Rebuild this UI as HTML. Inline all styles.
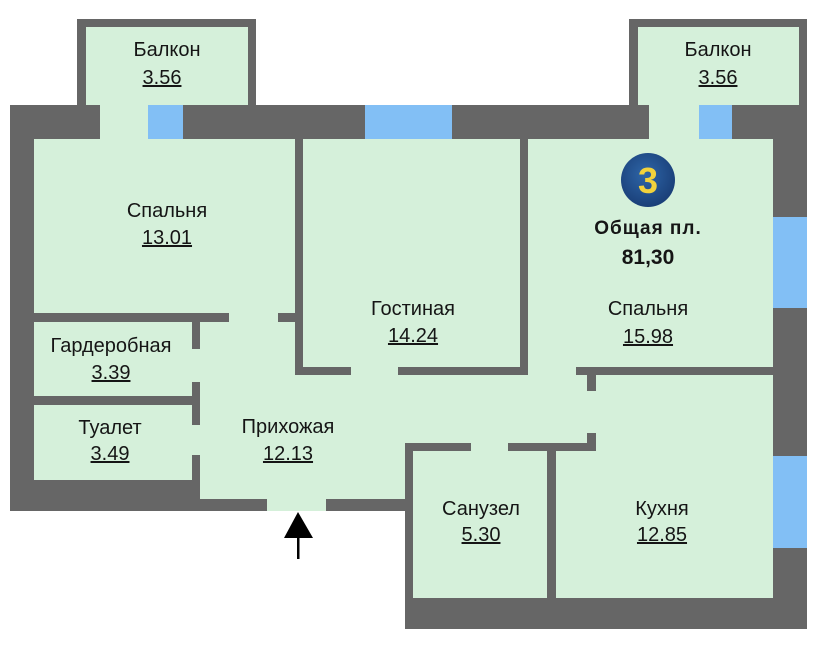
<!DOCTYPE html>
<html><head><meta charset="utf-8"><style>
html,body{margin:0;padding:0;background:#fff;}
svg{display:block}
text{font-family:"Liberation Sans Narrow","Liberation Sans",sans-serif;fill:#151515;text-anchor:middle;font-size:20px;}
.n{text-decoration:underline;}
</style></head><body>
<svg width="826" height="652" viewBox="0 0 826 652" xmlns="http://www.w3.org/2000/svg">
<defs><radialGradient id="g" cx="45%" cy="40%" r="60%"><stop offset="0" stop-color="#2e66a8"/><stop offset="1" stop-color="#1a3f78"/></radialGradient></defs>
<rect x="77" y="19" width="179" height="90" fill="#666"/>
<rect x="86" y="27" width="162" height="82" fill="#d5f0da"/>
<rect x="629" y="19" width="178" height="90" fill="#666"/>
<rect x="638" y="27" width="161" height="82" fill="#d5f0da"/>
<rect x="34" y="105" width="739" height="493" fill="#d5f0da"/>
<rect x="0" y="511" width="405" height="141" fill="#fff"/>
<rect x="10" y="105" width="90" height="34" fill="#666"/>
<rect x="148" y="105" width="35" height="34" fill="#82bff5"/>
<rect x="183" y="105" width="182" height="34" fill="#666"/>
<rect x="365" y="105" width="87" height="34" fill="#82bff5"/>
<rect x="452" y="105" width="197" height="34" fill="#666"/>
<rect x="699" y="105" width="33" height="34" fill="#82bff5"/>
<rect x="732" y="105" width="75" height="34" fill="#666"/>
<rect x="10" y="105" width="24" height="406" fill="#666"/>
<rect x="773" y="105" width="34" height="524" fill="#666"/>
<rect x="773" y="217" width="34" height="91" fill="#82bff5"/>
<rect x="773" y="456" width="34" height="92" fill="#82bff5"/>
<rect x="10" y="480" width="190" height="31" fill="#666"/>
<rect x="200" y="499" width="67" height="12" fill="#666"/>
<rect x="326" y="499" width="87" height="12" fill="#666"/>
<rect x="405" y="443" width="8" height="186" fill="#666"/>
<rect x="405" y="598" width="402" height="31" fill="#666"/>
<rect x="34" y="313" width="195" height="9" fill="#666"/>
<rect x="278" y="313" width="25" height="9" fill="#666"/>
<rect x="295" y="139" width="8" height="236" fill="#666"/>
<rect x="295" y="367" width="56" height="8" fill="#666"/>
<rect x="398" y="367" width="130" height="8" fill="#666"/>
<rect x="520" y="139" width="8" height="236" fill="#666"/>
<rect x="576" y="367" width="197" height="8" fill="#666"/>
<rect x="587" y="375" width="9" height="16" fill="#666"/>
<rect x="587" y="433" width="9" height="18" fill="#666"/>
<rect x="508" y="443" width="88" height="8" fill="#666"/>
<rect x="405" y="443" width="66" height="8" fill="#666"/>
<rect x="547" y="451" width="9" height="147" fill="#666"/>
<rect x="192" y="322" width="8" height="27" fill="#666"/>
<rect x="192" y="382" width="8" height="43" fill="#666"/>
<rect x="192" y="455" width="8" height="25" fill="#666"/>
<rect x="34" y="396" width="166" height="9" fill="#666"/>
<polygon points="298,512 284,538 313,538" fill="#000"/>
<rect x="297" y="536" width="2.5" height="23" fill="#000"/>
<circle cx="648" cy="180" r="27" fill="url(#g)"/>
<text x="648" y="193" style="font-family:'Liberation Sans',sans-serif;font-weight:bold;font-size:36px;fill:#f2d23c">3</text>
<text x="648" y="234" style="font-family:'Liberation Sans',sans-serif;font-weight:bold;font-size:19px;letter-spacing:1px">Общая пл.</text>
<text x="648" y="264" style="font-family:'Liberation Sans',sans-serif;font-weight:bold;font-size:21px">81,30</text>
<text x="167" y="56">Балкон</text><text class="n" x="162" y="84">3.56</text>
<text x="718" y="56">Балкон</text><text class="n" x="718" y="84">3.56</text>
<text x="167" y="217">Спальня</text><text class="n" x="167" y="244">13.01</text>
<text x="413" y="315">Гостиная</text><text class="n" x="413" y="342">14.24</text>
<text x="648" y="315">Спальня</text><text class="n" x="648" y="343">15.98</text>
<text x="111" y="352">Гардеробная</text><text class="n" x="111" y="379">3.39</text>
<text x="110" y="434">Туалет</text><text class="n" x="110" y="460">3.49</text>
<text x="288" y="433">Прихожая</text><text class="n" x="288" y="460">12.13</text>
<text x="481" y="515">Санузел</text><text class="n" x="481" y="541">5.30</text>
<text x="662" y="515">Кухня</text><text class="n" x="662" y="541">12.85</text>
</svg>
</body></html>
